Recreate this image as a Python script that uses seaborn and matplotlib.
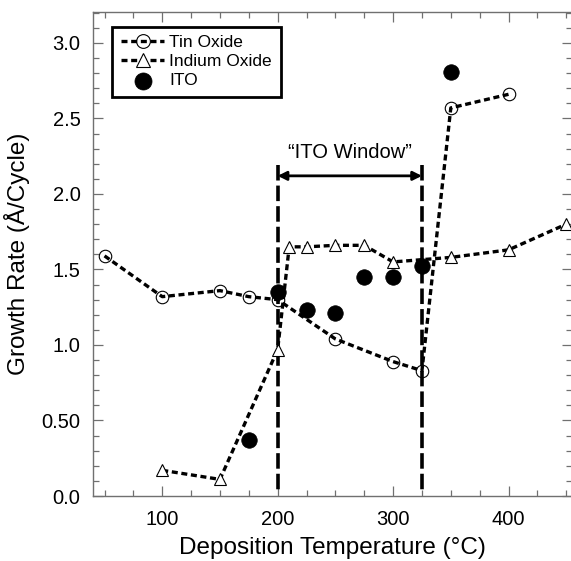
import matplotlib
matplotlib.use("Agg")
import matplotlib.pyplot as plt
from matplotlib.ticker import FixedLocator, FixedFormatter, MultipleLocator
import seaborn as sns

# Growth rate (Å/cycle) versus deposition temperature (°C)
tin_temp = [50, 100, 150, 175, 200, 250, 300, 325, 350, 400]
tin_rate = [1.59, 1.32, 1.36, 1.32, 1.30, 1.04, 0.89, 0.83, 2.57, 2.66]

indium_temp = [100, 150, 200, 210, 225, 250, 275, 300, 350, 400, 450]
indium_rate = [0.17, 0.11, 0.97, 1.65, 1.65, 1.66, 1.66, 1.55, 1.58, 1.63, 1.80]

ito_temp = [175, 200, 225, 250, 275, 300, 325, 350]
ito_rate = [0.37, 1.35, 1.23, 1.21, 1.45, 1.45, 1.52, 2.81]

window_bounds = [200, 325]
window_label = "\u201cITO Window\u201d"

ytick_values = [0.0, 0.5, 1.0, 1.5, 2.0, 2.5, 3.0]
ytick_labels = ["0.0", "0.50", "1.0", "1.5", "2.0", "2.5", "3.0"]
xtick_values = [100, 200, 300, 400]
xtick_labels = ["100", "200", "300", "400"]

sns.set_style("ticks")
plt.rcParams["font.family"] = ["Liberation Sans", "DejaVu Sans"]
plt.rcParams["text.color"] = "black"
plt.rcParams["axes.labelcolor"] = "black"
plt.rcParams["xtick.labelcolor"] = "black"
plt.rcParams["ytick.labelcolor"] = "black"

fig = plt.figure(figsize=(5.71, 5.61), dpi=100)
ax = fig.add_axes([93 / 571, 65 / 561, 479 / 571, 484 / 561])

data_dash = (0, (1.8, 1.1))

# ITO window boundaries (drawn top-down so the first dash sits at the arrow)
for xb in window_bounds:
    ax.plot([xb, xb], [2.19, 0.03], color="black", lw=2.6,
            ls=(0, (4.3, 1.4)), zorder=1)

ax.annotate("", xy=(window_bounds[0], 2.12), xytext=(window_bounds[1], 2.12),
            arrowprops=dict(arrowstyle="<|-|>", lw=2.0, color="black",
                            mutation_scale=13, shrinkA=0, shrinkB=0),
            zorder=3)
ax.text(sum(window_bounds) / 2, 2.275, window_label, ha="center", va="center",
        fontsize=14.5)

sns.lineplot(x=tin_temp, y=tin_rate, ax=ax, color="black", lw=2.4,
             ls=data_dash, marker="o", markersize=9, markerfacecolor="none",
             markeredgecolor="black", markeredgewidth=0.8, label="Tin Oxide",
             zorder=2)
sns.lineplot(x=indium_temp, y=indium_rate, ax=ax, color="black", lw=2.4,
             ls=data_dash, marker="^", markersize=9, markerfacecolor="white",
             markeredgecolor="black", markeredgewidth=0.8,
             label="Indium Oxide", zorder=2)
sns.scatterplot(x=ito_temp, y=ito_rate, ax=ax, color="black", s=125,
                edgecolor="black", linewidth=0.5, label="ITO", zorder=4)

ax.set_xlim(40, 455)
ax.set_ylim(0, 3.205)

ax.xaxis.set_major_locator(FixedLocator(xtick_values))
ax.xaxis.set_major_formatter(FixedFormatter(xtick_labels))
ax.xaxis.set_minor_locator(MultipleLocator(25))
ax.yaxis.set_major_locator(FixedLocator(ytick_values))
ax.yaxis.set_major_formatter(FixedFormatter(ytick_labels))
ax.yaxis.set_minor_locator(MultipleLocator(0.1))

ax.tick_params(which="both", direction="in", top=True, right=True,
               color="#707070", width=0.9)
ax.tick_params(which="major", length=7, labelsize=14.5)
ax.tick_params(which="minor", length=4)
ax.tick_params(axis="x", which="major", pad=10)
ax.tick_params(axis="y", which="major", pad=9)

for sp in ax.spines.values():
    sp.set_visible(True)
    sp.set_color("#707070")
    sp.set_linewidth(1.0)

ax.set_xlabel("Deposition Temperature (\u00b0C)", fontsize=17.5, labelpad=6)
ax.set_ylabel("Growth Rate (\u00c5/Cycle)", fontsize=17.5, labelpad=8)

leg = ax.legend(loc="upper left", bbox_to_anchor=(0.04, 0.97),
                borderaxespad=0, fontsize=12.5, handlelength=2.5,
                handletextpad=0.3, labelspacing=0.22, borderpad=0.5,
                markerscale=1.1, fancybox=False, framealpha=1,
                edgecolor="black")
leg.get_frame().set_linewidth(2.0)

fig.savefig("out.png", dpi=100)
